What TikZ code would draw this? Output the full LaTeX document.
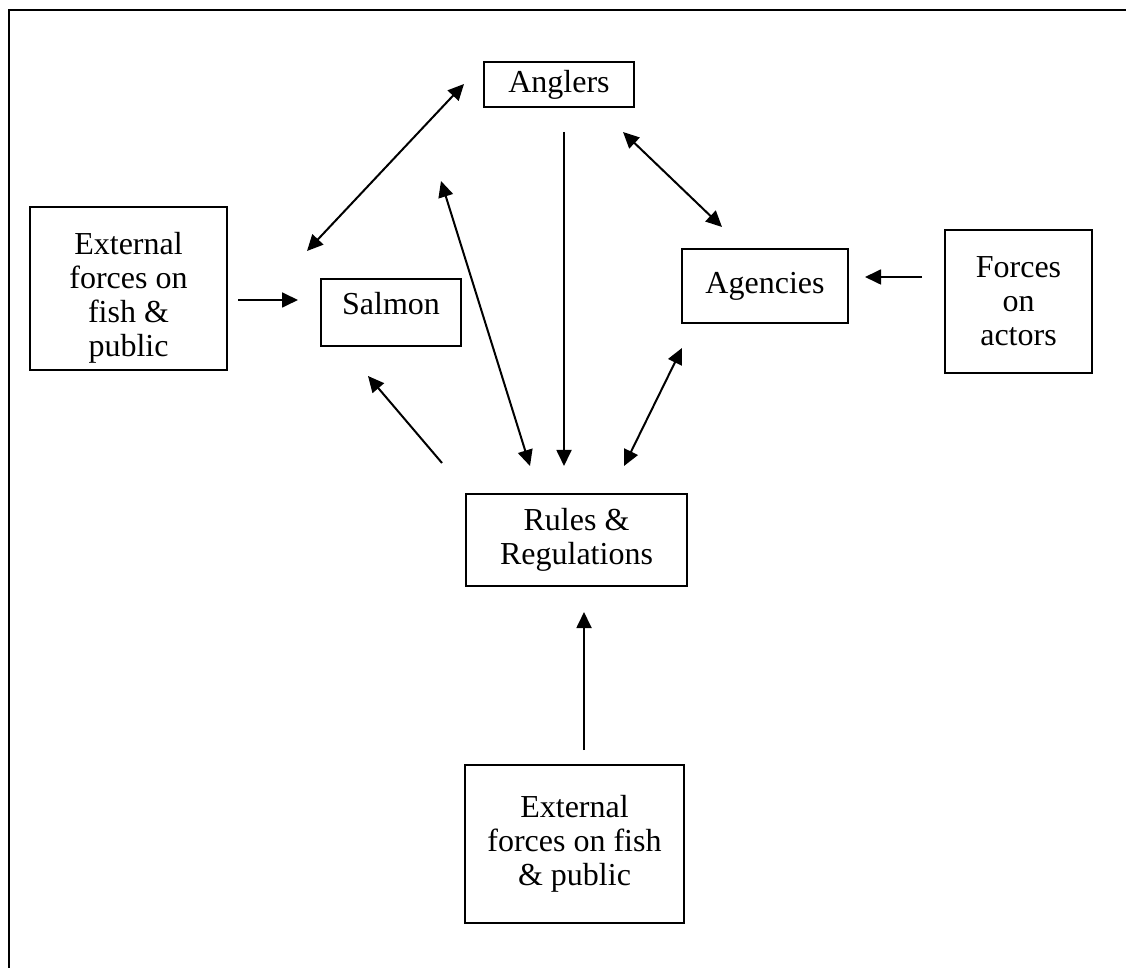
\documentclass[tikz,border=0pt]{standalone}
\usepackage{fontspec}
\setmainfont{Liberation Serif}
\usetikzlibrary{arrows.meta}
\newcommand{\padtop}[1]{\rule{0pt}{#1}}
\newcommand{\padbot}[1]{\rule[-#1]{0pt}{0pt}}
\tikzset{
  box/.style={draw,line width=0.75pt,align=center,inner sep=0pt,
    font=\fontsize{12}{12.75}\selectfont},
  boxsize/.style 2 args={minimum width=#1*0.375pt,minimum height=#2*0.375pt},
  link/.style={line width=0.75pt,-{Triangle[length=6pt,width=5.6pt]}},
  twoway/.style={line width=0.75pt,{Triangle[length=6pt,width=5.6pt]}-{Triangle[length=6pt,width=5.6pt]}}
}
\begin{document}
\begin{tikzpicture}[x=0.375pt,y=-0.375pt]
\useasboundingbox (0,0) rectangle (1126,968);
\draw[line width=0.75pt](9,968)--(9,10)--(1126,10);
% boxes
\node[box,boxsize={150}{45}] (anglers) at (559,84.5) {Anglers};
\node[box,boxsize={197}{163}] (extleft) at (128.5,288.5) {\padtop{15pt}External\\forces on\\fish \&\\public};
\node[box,boxsize={140}{67}] (salmon) at (391,312.5) {Salmon\padbot{7pt}};
\node[box,boxsize={166}{74}] (agencies) at (765,286) {Agencies};
\node[box,boxsize={147}{143}] (actors) at (1018.5,301.5) {Forces\\on\\actors};
\node[box,boxsize={221}{92}] (rules) at (576.5,540) {Rules \&\\Regulations};
\node[box,boxsize={219}{158}] (extlow) at (574.5,844) {External\\forces on fish\\\& public};
% arrow ends
\coordinate (fishout) at (238,300);
\coordinate (salmonin) at (298,300);
\coordinate (salmonup) at (307,251);
\coordinate (anglersleft) at (464,84);
\coordinate (anglersmid) at (441,181);
\coordinate (rulesleft) at (530,466);
\coordinate (anglersdown) at (564,132);
\coordinate (rulestop) at (564,466);
\coordinate (anglersright) at (623,132);
\coordinate (agenciesup) at (722,227);
\coordinate (rulesright) at (624,466);
\coordinate (agenciesdown) at (682,348);
\coordinate (actorsout) at (922,277);
\coordinate (agenciesin) at (865,277);
\coordinate (rulesout) at (442,463);
\coordinate (salmondown) at (368,376);
\coordinate (lowout) at (584,750);
\coordinate (rulesin) at (584,612);
% connectors
\draw[link](fishout)--(salmonin);
\draw[twoway](salmonup)--(anglersleft);
\draw[twoway](anglersmid)--(rulesleft);
\draw[link](anglersdown)--(rulestop);
\draw[twoway](anglersright)--(agenciesup);
\draw[twoway](rulesright)--(agenciesdown);
\draw[link](actorsout)--(agenciesin);
\draw[link](rulesout)--(salmondown);
\draw[link](lowout)--(rulesin);
\end{tikzpicture}
\end{document}
